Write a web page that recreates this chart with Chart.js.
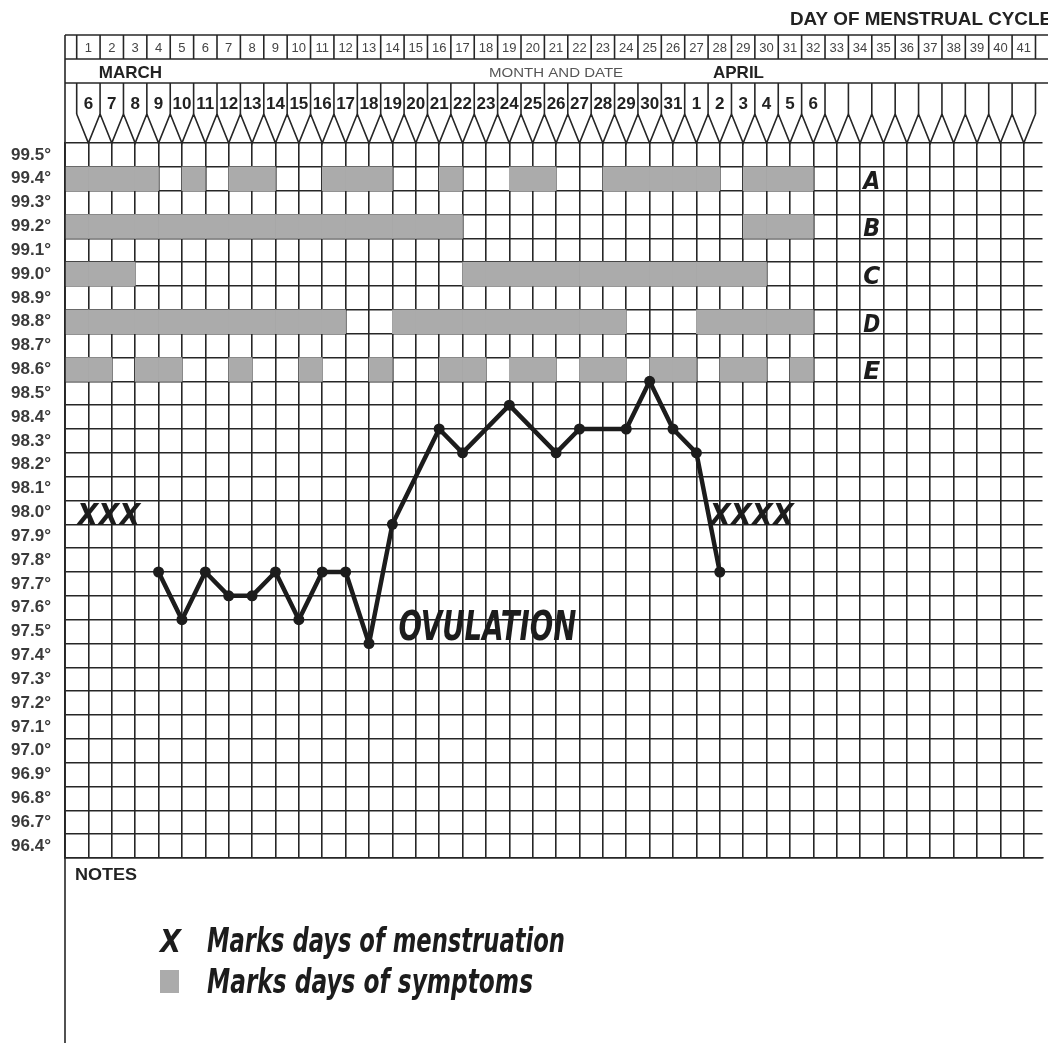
<!DOCTYPE html>
<html>
<head>
<meta charset="utf-8">
<script src="https://cdn.jsdelivr.net/npm/chart.js@4.4.0/dist/chart.umd.min.js"></script>
<style>
  html, body { margin: 0; padding: 0; background: #fff; }
  #wrap { width: 1048px; height: 1043px; }
</style>
</head>
<body>
<div id="wrap"><canvas id="bbt" width="1048" height="1043"></canvas></div>
<script>
// day of cycle (top row)
const cycleDays = [1,2,3,4,5,6,7,8,9,10,11,12,13,14,15,16,17,18,19,20,21,22,23,24,25,26,27,28,29,30,31,32,33,34,35,36,37,38,39,40,41];
// month and date row
const dateLabels = ["6","7","8","9","10","11","12","13","14","15","16","17","18","19","20","21","22","23","24","25","26","27","28","29","30","31","1","2","3","4","5","6"];
const monthNames = ["MARCH", "APRIL"];
const monthStartDay = [1, 27];
// temperature rows, top to bottom
const tempLabels = ["99.5","99.4","99.3","99.2","99.1","99.0","98.9","98.8","98.7","98.6","98.5","98.4","98.3","98.2","98.1","98.0","97.9","97.8","97.7","97.6","97.5","97.4","97.3","97.2","97.1","97.0","96.9","96.8","96.7","96.4"];

// basal temperature by cycle day (null = not plotted)
const chartDays = [1,2,3,4,5,6,7,8,9,10,11,12,13,14,15,16,17,18,19,20,21,22,23,24,25,26,27,28];
const temps = [null,null,null,97.8,97.6,97.8,97.7,97.7,97.8,97.6,97.8,97.8,97.5,98.0,null,98.4,98.3,null,98.5,null,98.3,98.4,null,98.4,98.6,98.4,98.3,97.8];

// menstruation days (X marks)
const mensesDays = [[1,2,3],[28,29,30,31]];
const ovulationDay = 14;

// symptom rows A-E, shaded cells
const symptomRows = ["A","B","C","D","E"];
const symptomRowTemps = [99.4, 99.2, 99.0, 98.8, 98.6];
const symptomA = [1,2,3,4,6,8,9,12,13,14,17,20,21,24,25,26,27,28,30,31,32];
const symptomB = [1,2,3,4,5,6,7,8,9,10,11,12,13,14,15,16,17,30,31,32];
const symptomC = [1,2,3,18,19,20,21,22,23,24,25,26,27,28,29,30];
const symptomD = [1,2,3,4,5,6,7,8,9,10,11,12,15,16,17,18,19,20,21,22,23,24,28,29,30,31,32];
const symptomE = [1,2,4,5,8,11,14,17,18,20,21,23,24,26,27,29,30,32];

const gridColor = "#262626";
const shadeColor = "#ababab";
const inkColor = "#1c1c1c";

const symptomCells = [];
[symptomA, symptomB, symptomC, symptomD, symptomE].forEach((cells, r) => {
  cells.forEach((c) => {
    symptomCells.push({ x: c - 0.5, y: [symptomRowTemps[r], +(symptomRowTemps[r] + 0.1).toFixed(1)] });
  });
});

const tempPoints = chartDays.map((d, i) => ({ x: d, y: temps[i] }));

// stretch text to a given width
function fitText(ctx, text, x, y, width, font, align) {
  ctx.save();
  ctx.font = font;
  const w = ctx.measureText(text).width;
  ctx.translate(x, y);
  ctx.scale(width / w, 1);
  ctx.textAlign = "left";
  ctx.fillText(text, align === "center" ? -w / 2 : 0, 0);
  ctx.restore();
}

const formPlugin = {
  id: "form",
  afterDraw(chart) {
    const ctx = chart.ctx;
    const xs = chart.scales.x;
    const ys = chart.scales.y;
    const area = chart.chartArea;
    const px = (d) => xs.getPixelForValue(d);
    const py = (v) => ys.getPixelForValue(v);
    const left = area.left;
    const right = chart.width;

    const line = (x1, y1, x2, y2) => {
      ctx.beginPath();
      ctx.moveTo(x1, y1);
      ctx.lineTo(x2, y2);
      ctx.stroke();
    };

    ctx.save();
    ctx.strokeStyle = gridColor;
    ctx.lineWidth = 1.6;

    // header rows
    [35, 59, 83].forEach((y) => line(left, y, right, y));
    line(left, 35, left, chart.height);
    for (let d = 0; d <= cycleDays.length; d++) {
      line(px(d + 0.5), 35, px(d + 0.5), 59);
      line(px(d + 0.5), 83, px(d + 0.5), 114);
    }
    // pencil points of the date row
    ctx.beginPath();
    cycleDays.forEach((d) => {
      ctx.moveTo(px(d - 0.5), 114);
      ctx.lineTo(px(d), area.top);
      ctx.lineTo(px(d + 0.5), 114);
    });
    ctx.stroke();

    ctx.fillStyle = "#222";
    ctx.textBaseline = "alphabetic";
    fitText(ctx, "DAY OF MENSTRUAL CYCLE", 790, 25, 262, 'bold 18px "Liberation Sans"');

    ctx.fillStyle = "#444";
    ctx.textAlign = "center";
    ctx.textBaseline = "middle";
    ctx.font = '13px "Liberation Sans"';
    cycleDays.forEach((d) => ctx.fillText(String(d), px(d), 48));

    ctx.fillStyle = "#222";
    ctx.textBaseline = "alphabetic";
    ctx.font = 'bold 17px "Liberation Sans"';
    monthNames.forEach((m, i) => ctx.fillText(m, px(monthStartDay[i] + 1.8), 78));
    ctx.fillStyle = "#555";
    fitText(ctx, "MONTH AND DATE", px(21), 77, 134, '13px "Liberation Sans"', "center");

    ctx.fillStyle = "#222";
    ctx.textAlign = "center";
    ctx.textBaseline = "middle";
    ctx.font = 'bold 17px "Liberation Sans"';
    dateLabels.forEach((t, i) => ctx.fillText(t, px(i + 1), 104));

    // hand lettering on the grid
    ctx.fillStyle = inkColor;
    ctx.textBaseline = "alphabetic";
    const hand = 'italic bold 31px "DejaVu Sans Condensed"';
    mensesDays.forEach((grp) => {
      const mid = (grp[0] + grp[grp.length - 1]) / 2;
      fitText(ctx, "X".repeat(grp.length), px(mid) - 3, py(98.0) + 1, grp.length * 21, hand, "center");
    });
    fitText(ctx, "OVULATION", px(ovulationDay) + 6, py(97.55) + 8, 178, 'italic bold 40px "DejaVu Sans Condensed"');
    symptomRows.forEach((r, i) => {
      fitText(ctx, r, px(34.5), py(symptomRowTemps[i]) - 2, 17, 'italic bold 25px "DejaVu Sans Condensed"', "center");
    });

    // notes box
    ctx.fillStyle = "#222";
    fitText(ctx, "NOTES", 75, 880, 62, 'bold 16px "Liberation Sans"');
    ctx.fillStyle = inkColor;
    fitText(ctx, "X", 160, 952, 21, 'italic bold 32px "DejaVu Sans Condensed"');
    fitText(ctx, "Marks days of menstruation", 207, 952, 358, 'italic bold 33px "DejaVu Sans Condensed"');
    ctx.fillStyle = shadeColor;
    ctx.fillRect(160, 970, 19, 23);
    ctx.fillStyle = inkColor;
    fitText(ctx, "Marks days of symptoms", 207, 993, 326, 'italic bold 33px "DejaVu Sans Condensed"');
    ctx.restore();
  }
};

new Chart(document.getElementById("bbt"), {
  data: {
    datasets: [
      {
        type: "line",
        data: tempPoints,
        order: 0,
        spanGaps: true,
        borderColor: inkColor,
        borderWidth: 4.5,
        borderJoinStyle: "round",
        tension: 0,
        pointRadius: 5.5,
        pointBackgroundColor: inkColor,
        pointBorderWidth: 0
      },
      {
        type: "bar",
        data: symptomCells,
        order: 1,
        backgroundColor: shadeColor,
        borderWidth: 0,
        barPercentage: 1,
        categoryPercentage: 1
      }
    ]
  },
  options: {
    responsive: false,
    animation: false,
    devicePixelRatio: 1,
    layout: { padding: { top: 143, bottom: 185, left: 0, right: 0 } },
    plugins: { legend: { display: false }, tooltip: { enabled: false } },
    scales: {
      x: {
        type: "linear",
        min: 0,
        max: 41.8,
        offset: false,
        z: 1,
        afterBuildTicks: (s) => { s.ticks = [0].concat(cycleDays).map((v) => ({ value: v })); },
        afterFit: (s) => { s.height = 0; },
        ticks: { display: false },
        grid: { color: gridColor, lineWidth: 1.6, drawTicks: false, offset: false },
        border: { color: gridColor, width: 1.6 }
      },
      y: {
        type: "linear",
        min: 96.6,
        max: 99.6,
        z: 1,
        afterBuildTicks: (s) => {
          const t = [];
          for (let i = 0; i <= tempLabels.length; i++) t.push({ value: +(96.6 + i * 0.1).toFixed(1) });
          s.ticks = t;
        },
        afterFit: (s) => { s.width = 65; },
        ticks: {
          autoSkip: false,
          padding: 14,
          labelOffset: -11.9,
          color: "#3a3a3a",
          font: { family: "Liberation Sans", size: 17, weight: "bold" },
          callback: (v) => {
            const idx = Math.round((99.6 - v) * 10) - 1;
            return idx >= 0 && idx < tempLabels.length ? tempLabels[idx] + "°" : "";
          }
        },
        grid: { color: gridColor, lineWidth: 1.6, drawTicks: false },
        border: { color: gridColor, width: 1.6 }
      }
    }
  },
  plugins: [formPlugin]
});
</script>
</body>
</html>
